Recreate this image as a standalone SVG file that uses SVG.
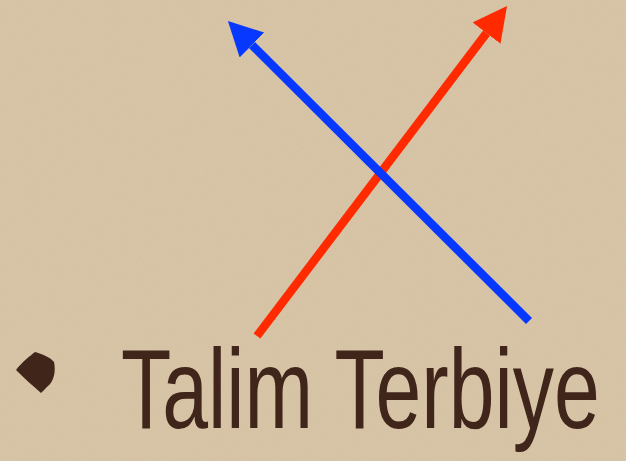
<svg xmlns="http://www.w3.org/2000/svg" width="626" height="461" viewBox="0 0 626 461">
  <style>
    .arrow { stroke-width: 8.5; fill: none; stroke-linecap: butt; }
    .label { font-family: "Liberation Sans", "DejaVu Sans", sans-serif; font-size: 114px; fill: #40251b; }
  </style>
  <defs>
    <filter id="paper" x="0" y="0" width="100%" height="100%">
      <feTurbulence type="fractalNoise" baseFrequency="0.9" numOctaves="2" seed="3" result="n"/>
      <feColorMatrix in="n" type="matrix" values="0 0 0 0 0.45  0 0 0 0 0.36  0 0 0 0 0.22  0 0 0 0.18 0" result="c"/>
      <feComposite in="c" in2="SourceGraphic" operator="in"/>
    </filter>
    <marker id="headBlue" markerUnits="userSpaceOnUse" markerWidth="34" markerHeight="35" refX="0" refY="17.5" orient="auto">
      <path d="M0,0 L34,17.5 L0,35 Z" fill="#0638ff"/>
    </marker>
    <marker id="headRed" markerUnits="userSpaceOnUse" markerWidth="34" markerHeight="35" refX="0" refY="17.5" orient="auto">
      <path d="M0,0 L34,17.5 L0,35 Z" fill="#ff2a00"/>
    </marker>
  </defs>
  <rect width="626" height="461" fill="#dac7a9"/>
  <rect width="626" height="461" fill="#dac7a9" filter="url(#paper)"/>
  <g id="connectors">
    <line class="arrow" x1="257" y1="336" x2="486.5" y2="33.1" stroke="#ff2a00" marker-end="url(#headRed)"/>
    <line class="arrow" x1="529" y1="321" x2="252" y2="45" stroke="#0638ff" marker-end="url(#headBlue)"/>
  </g>
  <g id="bullet">
    <path d="M16,370 C22,362 30,356 35,352 C42,354 50,357 54,362 C56,371 54,381 48,386 C45,389 43,391 41,393 C33,386 24,378 16,370 Z" fill="#40251b"/>
  </g>
  <g id="label-node">
    <text class="label" transform="translate(121 428) scale(0.722 1)" x="0" y="0">Talim Terbiye</text>
  </g>
</svg>
